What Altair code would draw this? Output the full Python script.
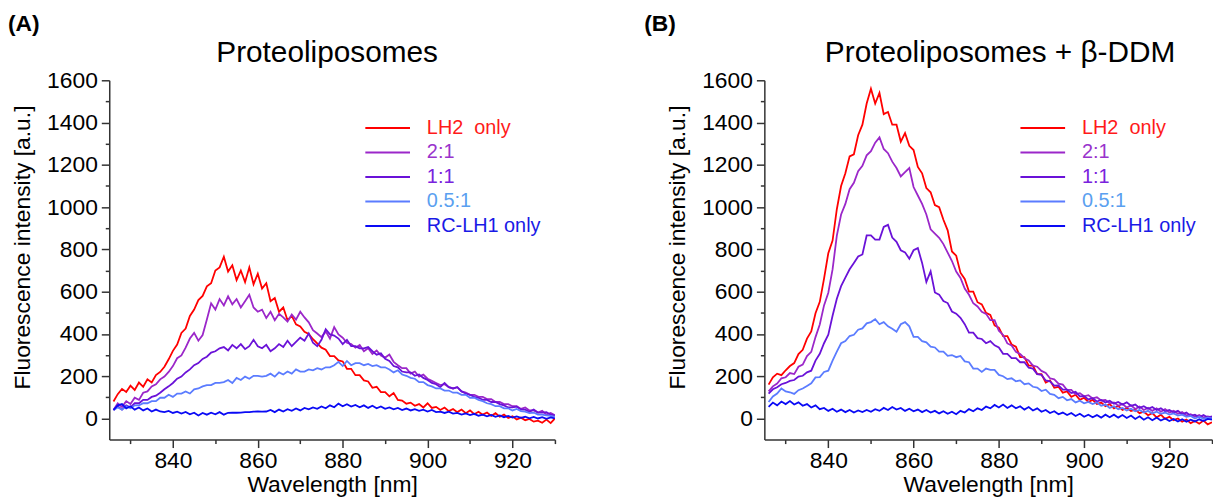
import altair as alt
import pandas as pd

FONT = "Liberation Sans"

WAVELENGTH = list(range(826, 931))

SERIES = ["LH2\u00a0 only", "2:1", "1:1", "0.5:1", "RC-LH1 only"]
LINE_COLORS = ["#ff0000", "#9b27c9", "#6a12d8", "#5b7cff", "#0a0af5"]
TEXT_COLORS = ["#ff1a1a", "#9933cc", "#7a22dd", "#5aa0f0", "#1a1ae6"]

TITLE_A = "Proteoliposomes"
TITLE_B = "Proteoliposomes + \u03b2-DDM"
LABEL_A = "(A)"
LABEL_B = "(B)"

# ---------------- Panel A : Proteoliposomes ----------------
A_LH2 = [
    80, 115, 140, 125, 155, 135, 170, 150, 185, 170,
    205, 220, 245, 280, 320, 350, 405, 425, 485, 515,
    560, 580, 625, 640, 700, 715, 765, 695, 725, 655,
    700, 645, 715, 635, 685, 615, 640, 555, 570, 505,
    525, 465, 485, 445, 435, 410, 400, 375, 355, 335,
    325, 295, 295, 275, 270, 235, 235, 205, 205, 180,
    175, 145, 150, 125, 125, 105, 120, 88, 85, 70,
    75, 60, 68, 52, 72, 50, 55, 40, 52, 35,
    45, 30, 42, 25, 38, 20, 32, 18, 28, 12,
    25, 8, 18, 2, 10, -5, 4, -8, -2, -15,
    -10, -20, -5, -22, 0,
]
A_21 = [
    40, 72, 55, 82, 68, 98, 88, 122, 128, 152,
    162, 185, 198, 220, 248, 285, 298, 335, 378, 405,
    368, 395, 468, 545, 515, 565, 535, 578, 540, 565,
    525, 555, 585, 525, 505, 515, 475, 505, 465, 495,
    478, 458, 492, 468, 505, 478, 455, 418, 402, 385,
    412, 378, 432, 398, 382, 358, 352, 335, 348, 318,
    332, 305, 322, 298, 288, 302, 268, 252, 238, 238,
    212, 222, 198, 208, 188, 178, 168, 158, 162, 148,
    142, 148, 128, 122, 112, 112, 102, 102, 92, 92,
    78, 78, 68, 68, 58, 58, 45, 52, 38, 38,
    28, 36, 18, 26, 15,
]
A_11 = [
    40, 58, 42, 62, 52, 72, 72, 88, 88, 102,
    108, 122, 138, 152, 168, 188, 198, 218, 232, 252,
    262, 282, 292, 312, 318, 332, 338, 322, 348, 332,
    352, 328, 342, 372, 342, 332, 348, 318, 332, 352,
    338, 368, 342, 362, 382, 368, 402, 358, 342, 372,
    422, 398, 392, 378, 352, 372, 342, 342, 332, 332,
    338, 318, 302, 308, 282, 272, 248, 242, 222, 218,
    218, 202, 208, 192, 182, 168, 162, 148, 168, 148,
    142, 148, 128, 118, 112, 102, 98, 88, 88, 78,
    78, 68, 62, 52, 52, 56, 42, 42, 32, 42,
    28, 28, 30, 18, 15,
]
A_051 = [
    40, 52, 42, 58, 48, 62, 62, 72, 72, 82,
    82, 98, 98, 112, 102, 118, 118, 128, 118, 138,
    142, 152, 158, 158, 168, 168, 172, 182, 168, 192,
    182, 198, 188, 202, 202, 198, 202, 212, 198, 218,
    208, 222, 212, 232, 222, 222, 232, 228, 238, 232,
    242, 242, 252, 268, 248, 272, 252, 262, 262, 252,
    258, 248, 252, 242, 242, 232, 218, 228, 208, 202,
    192, 188, 172, 172, 158, 152, 142, 142, 132, 132,
    122, 122, 112, 112, 98, 98, 88, 82, 72, 68,
    58, 58, 48, 48, 38, 45, 35, 32, 25, 28,
    18, 18, 15, 12, 8,
]
A_RC = [
    40, 62, 68, 48, 58, 42, 52, 38, 47, 33,
    42, 33, 30, 36, 26, 32, 23, 31, 20, 27,
    14, 26, 18, 27, 20, 30, 18, 27, 28, 27,
    28, 30, 30, 32, 33, 32, 33, 40, 30, 42,
    33, 44, 36, 47, 38, 50, 43, 52, 46, 57,
    48, 62, 53, 70, 58, 67, 56, 64, 53, 62,
    50, 60, 48, 57, 46, 52, 43, 50, 40, 47,
    38, 44, 36, 42, 33, 40, 30, 32, 26, 32,
    23, 26, 18, 24, 16, 22, 13, 18, 10, 17,
    8, 14, 6, 12, 4, 10, 3, 8, 1, 7,
    0, 6, -2, 5, 0,
]

# ---------------- Panel B : Proteoliposomes + beta-DDM ----------------
B_LH2 = [
    160, 195, 212, 205, 228, 248, 262, 305, 325, 378,
    412, 498, 552, 662, 782, 842, 990, 1100, 1160, 1240,
    1250, 1340, 1390, 1490, 1560, 1490, 1540, 1440, 1450, 1390,
    1390, 1310, 1350, 1290, 1270, 1190, 1160, 1090, 1070, 1010,
    1000, 940, 890, 790, 770, 690, 660, 600, 600, 550,
    540, 500, 490, 440, 430, 390, 390, 350, 340, 290,
    290, 250, 250, 210, 210, 170, 180, 145, 150, 122,
    128, 102, 112, 88, 98, 78, 88, 68, 75, 58,
    68, 48, 60, 40, 50, 35, 42, 25, 32, 15,
    25, 5, 18, -2, 8, -8, 0, -15, -5, -22,
    -12, -25, -10, -28, -18,
]
B_21 = [
    128, 152, 165, 190, 195, 215, 210, 245, 255, 295,
    315, 385, 445, 535, 595, 705, 865, 965, 1015, 1085,
    1115, 1170, 1195, 1245, 1265, 1305, 1330, 1275, 1255, 1215,
    1185, 1145, 1165, 1185, 1095, 1055, 1015, 965, 895, 875,
    855, 825, 785, 745, 695, 665, 615, 585, 545, 530,
    505, 495, 465, 465, 415, 395, 355, 345, 315, 305,
    285, 275, 250, 245, 225, 215, 190, 185, 165, 160,
    135, 135, 115, 120, 105, 110, 95, 100, 85, 88,
    72, 76, 60, 68, 52, 62, 45, 56, 40, 50,
    36, 48, 32, 44, 28, 36, 22, 30, 14, 20,
    8, 16, 4, 10, 5,
]
B_11 = [
    118, 138, 148, 162, 168, 178, 182, 198, 202, 218,
    226, 274, 306, 356, 396, 486, 566, 626, 666, 706,
    736, 766, 776, 866, 866, 846, 846, 906, 916, 856,
    836, 796, 786, 756, 796, 806, 736, 646, 696, 596,
    586, 556, 546, 506, 496, 476, 446, 406, 406, 380,
    376, 356, 366, 346, 336, 306, 306, 286, 286, 266,
    266, 240, 236, 210, 206, 180, 176, 155, 156, 136,
    136, 120, 126, 105, 106, 90, 96, 80, 88, 76,
    84, 70, 78, 66, 76, 60, 66, 50, 58, 46,
    54, 40, 48, 34, 40, 28, 36, 20, 28, 12,
    18, 6, 16, 4, 10,
]
B_051 = [
    78, 104, 118, 142, 128, 124, 116, 134, 142, 154,
    166, 194, 196, 220, 226, 274, 316, 356, 366, 390,
    396, 420, 426, 450, 456, 470, 446, 456, 436, 424,
    410, 446, 456, 436, 386, 386, 366, 360, 340, 336,
    316, 316, 296, 300, 290, 296, 270, 266, 236, 236,
    220, 236, 230, 230, 206, 200, 186, 190, 176, 180,
    162, 166, 150, 146, 130, 136, 116, 112, 96, 102,
    86, 92, 76, 84, 72, 78, 68, 76, 60, 66,
    50, 58, 44, 50, 38, 46, 34, 40, 28, 36,
    24, 32, 22, 28, 18, 24, 14, 18, 8, 12,
    0, 8, -2, 4, 0,
]
B_RC = [
    55, 75, 62, 80, 68, 82, 66, 76, 60, 68,
    52, 62, 44, 50, 36, 46, 32, 42, 30, 40,
    28, 38, 30, 40, 32, 44, 36, 50, 40, 54,
    42, 50, 36, 46, 34, 42, 30, 40, 28, 36,
    24, 34, 22, 32, 20, 36, 28, 44, 34, 48,
    40, 56, 48, 64, 52, 66, 50, 62, 48, 58,
    42, 54, 38, 48, 32, 40, 26, 34, 20, 28,
    16, 26, 12, 22, 8, 18, 6, 16, 4, 18,
    6, 18, 4, 16, 2, 14, -2, 10, -6, 6,
    -8, 4, -10, 0, -12, -2, -14, -4, -16, -6,
    -14, -4, -12, -2, -5,
]


def long_frame(series_lists):
    rows = []
    for k, (name, vals) in enumerate(zip(SERIES, series_lists)):
        for w, v in zip(WAVELENGTH, vals):
            rows.append({"wavelength": w, "intensity": v, "sample": name, "order": k})
    return pd.DataFrame(rows)


df_a = long_frame([A_LH2, A_21, A_11, A_051, A_RC])
df_b = long_frame([B_LH2, B_21, B_11, B_051, B_RC])

label_color_expr = " : ".join(
    f"datum.label == '{s}' ? '{c}'" for s, c in zip(SERIES[1:], TEXT_COLORS[1:])
) + f" : '{TEXT_COLORS[0]}'"

H = 362


def panel(df, width, title, title_dx, tag, tag_dx):
    x = alt.X(
        "wavelength:Q",
        scale=alt.Scale(domain=[825, 930], nice=False, zero=False),
        axis=alt.Axis(
            title="Wavelength [nm]",
            values=list(range(830, 931, 10)),
            labelExpr="datum.value % 20 == 0 ? datum.label : ''",
            tickSize=alt.condition("datum.value % 20 != 0", alt.value(4), alt.value(8)),
            labelPadding=2,
            titlePadding=1,
        ),
    )
    y = alt.Y(
        "intensity:Q",
        scale=alt.Scale(domain=[-100, 1600], nice=False, zero=False),
        axis=alt.Axis(
            title="Fluorescence intensity [a.u.]",
            format="d",
            values=list(range(0, 1601, 100)),
            labelExpr="datum.value % 200 == 0 ? datum.label : ''",
            tickSize=alt.condition("datum.value % 200 != 0", alt.value(4), alt.value(8)),
            labelPadding=4,
            titlePadding=12,
            titleY=168,
        ),
    )
    lines = (
        alt.Chart(df)
        .mark_line(strokeWidth=1.8, clip=True)
        .encode(
            x=x,
            y=y,
            color=alt.Color(
                "sample:N",
                scale=alt.Scale(domain=SERIES, range=LINE_COLORS),
                sort=SERIES,
                legend=alt.Legend(
                    orient="none",
                    legendX=257,
                    legendY=38,
                    title=None,
                    padding=0,
                    symbolType="stroke",
                    symbolSize=2025,
                    symbolStrokeWidth=2,
                    clipHeight=20,
                    rowPadding=4.7,
                    labelFont=FONT,
                    labelFontSize=20,
                    labelOffset=16,
                    labelColor={"expr": label_color_expr},
                ),
            ),
            detail="order:O",
        )
    )
    ttl = (
        alt.Chart(pd.DataFrame({"t": [title]}))
        .mark_text(font=FONT, fontSize=30, align="center", baseline="alphabetic", color="black")
        .encode(text="t:N", x=alt.value(width / 2 + title_dx), y=alt.value(-18))
    )
    tg = (
        alt.Chart(pd.DataFrame({"t": [tag]}))
        .mark_text(font=FONT, fontSize=23, fontWeight="bold", align="left", baseline="alphabetic", color="black")
        .encode(text="t:N", x=alt.value(tag_dx), y=alt.value(-50))
    )
    return alt.layer(lines, ttl, tg).properties(width=width, height=H)


chart = (
    alt.hconcat(
        panel(df_a, 449, TITLE_A, -5, LABEL_A, -102),
        panel(df_b, 451, TITLE_B, 12, LABEL_B, -121),
        spacing=89,
    )
    .resolve_scale(color="independent")
    .properties(padding={"left": 0, "top": 3, "right": 0, "bottom": 0})
    .configure_view(stroke=None)
    .configure_axis(
        grid=False,
        domainColor="#333333",
        domainWidth=1.5,
        tickColor="#333333",
        tickWidth=1.5,
        labelFont=FONT,
        labelFontSize=23,
        labelColor="black",
        titleFont=FONT,
        titleFontSize=23,
        titleFontWeight="normal",
        titleColor="black",
    )
)

chart.save("out.html", embed_options={"renderer": "svg", "actions": False})
